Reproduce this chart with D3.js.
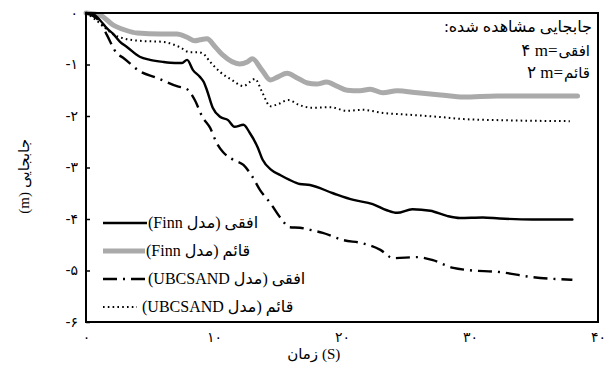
<!DOCTYPE html>
<html>
<head>
<meta charset="utf-8">
<script src="https://cdn.jsdelivr.net/npm/d3@7/dist/d3.min.js"></script>
<style>
  html, body { margin: 0; padding: 0; background: #fff; }
  svg { display: block; }
  text { font-family: "Liberation Serif", "DejaVu Sans", serif; fill: #000; }
</style>
</head>
<body>
<svg id="chart" width="607" height="383"></svg>
<script>
// Time (s) of each reading
const finnH_t = [0, 0.55, 1.1, 1.64, 2.1, 2.66, 3.2, 4.2, 5.0, 6.0, 6.95, 7.5, 7.9, 8.36, 8.9, 9.2, 9.45, 9.9, 10.5, 11.1, 11.6, 12.3, 12.8, 13.4, 13.8, 14.5, 15.2, 15.9, 16.7, 17.5, 19.3, 20.9, 22.4, 23.5, 24.3, 25.5, 26.9, 28.2, 29.2, 31.0, 32.3, 34.9, 38.0];
// Horizontal displacement (m), Finn model
const finnH_v = [0, -0.02, -0.14, -0.30, -0.40, -0.56, -0.66, -0.85, -0.91, -0.95, -0.97, -0.97, -0.91, -1.11, -1.24, -1.34, -1.50, -1.84, -2.02, -2.08, -2.21, -2.17, -2.33, -2.60, -2.85, -3.05, -3.15, -3.24, -3.32, -3.34, -3.50, -3.63, -3.71, -3.83, -3.88, -3.81, -3.84, -3.94, -3.98, -3.97, -3.99, -4.01, -4.01];

const finnV_t = [0, 1.1, 2.1, 3.05, 4.0, 5.8, 7.1, 7.9, 8.5, 8.9, 9.45, 10.1, 10.7, 12.0, 12.6, 13.0, 13.75, 14.4, 15.0, 15.7, 16.5, 17.3, 18.0, 18.8, 19.6, 20.4, 21.4, 22.2, 23.2, 24.3, 25.9, 27.7, 29.5, 32.1, 34.7, 38.4];
// Vertical displacement (m), Finn model
const finnV_v = [0, -0.04, -0.23, -0.33, -0.39, -0.41, -0.41, -0.47, -0.54, -0.52, -0.50, -0.66, -0.82, -0.99, -0.95, -0.89, -1.11, -1.30, -1.24, -1.17, -1.26, -1.36, -1.38, -1.34, -1.42, -1.50, -1.51, -1.48, -1.55, -1.51, -1.55, -1.59, -1.63, -1.61, -1.61, -1.61];

const ubcH_t = [0, 1.1, 1.64, 2.4, 2.9, 4.2, 5.55, 7.1, 7.9, 8.5, 9.1, 9.7, 10.2, 10.7, 11.5, 12.3, 13.0, 13.6, 14.4, 15.2, 15.9, 16.7, 17.5, 18.5, 20.1, 21.6, 23.0, 24.0, 25.9, 27.1, 28.7, 29.8, 32.3, 34.9, 38.0];
// Horizontal displacement (m), UBCSAND model
const ubcH_v = [0, -0.17, -0.43, -0.78, -0.87, -1.13, -1.26, -1.42, -1.48, -1.69, -2.02, -2.23, -2.52, -2.70, -2.85, -2.95, -3.18, -3.44, -3.69, -3.98, -4.16, -4.17, -4.21, -4.27, -4.41, -4.47, -4.60, -4.76, -4.74, -4.80, -4.95, -4.99, -5.03, -5.13, -5.18];

const ubcV_t = [0, 0.7, 1.5, 2.1, 2.9, 4.2, 6.0, 7.3, 8.1, 8.7, 9.1, 9.7, 10.5, 11.4, 12.3, 12.8, 13.2, 13.75, 14.4, 15.0, 15.8, 16.7, 17.7, 19.1, 20.4, 21.6, 23.2, 25.5, 27.7, 29.5, 32.1, 37.8];
// Vertical displacement (m), UBCSAND model
const ubcV_v = [0, -0.12, -0.29, -0.41, -0.49, -0.54, -0.56, -0.66, -0.76, -0.76, -0.78, -0.95, -1.15, -1.30, -1.42, -1.34, -1.28, -1.53, -1.81, -1.77, -1.69, -1.79, -1.84, -1.83, -1.90, -1.88, -1.94, -1.98, -2.02, -2.06, -2.08, -2.10];

// Axis ticks and their Persian labels
const xTicks = [0, 10, 20, 30, 40];
const xTickLabels = ["۰", "۱۰", "۲۰", "۳۰", "۴۰"];
const yTicks = [0, -1, -2, -3, -4, -5, -6];
const yTickLabels = ["۰", "-۱", "-۲", "-۳", "-۴", "-۵", "-۶"];

// Legend entries
const legendLabels = ["افقی (مدل Finn)", "قائم (مدل Finn)", "افقی (مدل UBCSAND)", "قائم (مدل UBCSAND)"];

// Observed displacement note: heading, then [direction word, amount]
const noteTitle = "جابجایی مشاهده شده:";
const noteWords = ["افقی", "قائم"];
const noteAmounts = ["۴ m=", "۲ m="];

// Axis titles, split into their Persian word and unit
const xTitleWord = "زمان";
const xTitleUnit = "(S)";
const yTitleWord = "جابجایی";
const yTitleUnit = "(m)";

const svg = d3.select("#chart");
const L = 86, R = 598, T = 13, B = 322;

const x = d3.scaleLinear().domain([0, 40]).range([L, R]);
const y = d3.scaleLinear().domain([-6, 0]).range([B, T]);

const styles = [
  { color: "#000", width: 2.4, dash: null },
  { color: "#aaa", width: 5, dash: null },
  { color: "#000", width: 2.4, dash: "14,6,2,6" },
  { color: "#000", width: 2, dash: "1.6,3.2" }
];

const series = [
  { t: finnH_t, v: finnH_v },
  { t: finnV_t, v: finnV_v },
  { t: ubcH_t, v: ubcH_v },
  { t: ubcV_t, v: ubcV_v }
];

const line = d3.line()
  .x(d => x(d[0]))
  .y(d => y(d[1]))
  .curve(d3.curveMonotoneX);

// Draw the vertical Finn curve first so the black lines sit on top of it
[1, 3, 2, 0].forEach(i => {
  const s = series[i], st = styles[i];
  const pts = s.t.map((t, k) => [t, s.v[k]]);
  svg.append("path")
    .attr("d", line(pts))
    .attr("fill", "none")
    .attr("stroke", st.color)
    .attr("stroke-width", st.width)
    .attr("stroke-linejoin", "round")
    .attr("stroke-linecap", st.dash ? "butt" : "round")
    .attr("stroke-dasharray", st.dash);
});

// Frame
svg.append("rect")
  .attr("x", L).attr("y", T)
  .attr("width", R - L).attr("height", B - T)
  .attr("fill", "none").attr("stroke", "#000").attr("stroke-width", 2);

// Y axis
const yAxis = d3.axisLeft(y)
  .tickValues(yTicks)
  .tickFormat((d, i) => yTickLabels[i])
  .tickSizeInner(-4).tickSizeOuter(0).tickPadding(8);
const gy = svg.append("g").attr("transform", `translate(${L},0)`).call(yAxis);
gy.select(".domain").remove();
gy.selectAll(".tick line").attr("stroke", "#000").attr("stroke-width", 1.5);
gy.selectAll(".tick text")
  .style("font-family", "'DejaVu Sans', sans-serif")
  .style("font-size", "14px");

// X axis
const xAxis = d3.axisBottom(x)
  .tickValues(xTicks)
  .tickFormat((d, i) => xTickLabels[i])
  .tickSizeInner(0).tickSizeOuter(0).tickPadding(10);
const gx = svg.append("g").attr("transform", `translate(0,${B})`).call(xAxis);
gx.select(".domain").remove();
gx.selectAll(".tick text")
  .style("font-family", "'DejaVu Sans', sans-serif")
  .style("font-size", "14px");

// X axis title: word on the left, unit on the right
svg.append("text")
  .attr("x", 318).attr("y", 359)
  .attr("text-anchor", "end")
  .style("font-size", "15px")
  .text(xTitleWord);
svg.append("text")
  .attr("x", 322).attr("y", 359)
  .attr("text-anchor", "start")
  .style("font-size", "15px")
  .text(xTitleUnit);

// Y axis title, reading bottom to top: unit below the word
const gyt = svg.append("g").attr("transform", "translate(29,162) rotate(-90)");
gyt.append("text")
  .attr("x", -30).attr("y", 0)
  .attr("text-anchor", "end")
  .style("font-size", "15px")
  .text(yTitleUnit);
gyt.append("text")
  .attr("x", -26).attr("y", 0)
  .attr("text-anchor", "start")
  .style("font-size", "15px")
  .text(yTitleWord);

// Legend
const legendRows = [223, 251, 279, 307];
const legendLen = [44, 42, 44, 34];
legendRows.forEach((ly, i) => {
  const st = styles[i];
  svg.append("line")
    .attr("x1", 103).attr("x2", 103 + legendLen[i])
    .attr("y1", ly).attr("y2", ly)
    .attr("stroke", st.color)
    .attr("stroke-width", st.width)
    .attr("stroke-dasharray", st.dash);
  svg.append("text")
    .attr("x", 103 + legendLen[i] + (i === 3 ? 5 : 1))
    .attr("y", ly + 5)
    .attr("direction", "rtl")
    .attr("text-anchor", "end")
    .style("font-size", "16px")
    .text(legendLabels[i]);
});

// Observed displacement note
svg.append("text")
  .attr("x", 592).attr("y", 32)
  .attr("direction", "rtl")
  .attr("text-anchor", "start")
  .style("font-size", "16px")
  .text(noteTitle);
noteWords.forEach((w, i) => {
  const ny = 56 + i * 22;
  const word = svg.append("text")
    .attr("x", 590).attr("y", ny)
    .attr("text-anchor", "end")
    .style("font-size", "15px")
    .text(w);
  const wWidth = word.node().getComputedTextLength();
  svg.append("text")
    .attr("x", 590 - wWidth - 1).attr("y", ny)
    .attr("text-anchor", "end")
    .style("font-size", "17px")
    .text(noteAmounts[i]);
});
</script>
</body>
</html>
